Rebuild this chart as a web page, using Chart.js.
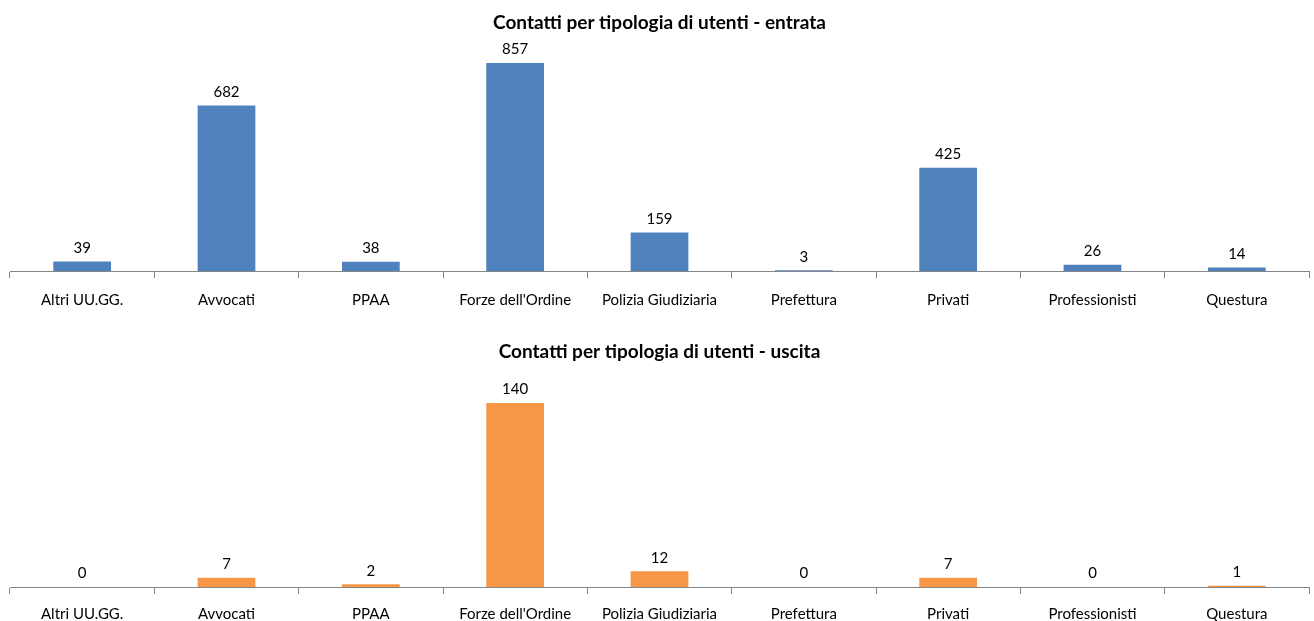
<!DOCTYPE html>
<html>
<head>
<meta charset="utf-8">
<script src="https://cdn.jsdelivr.net/npm/chart.js@4"></script>
<style>
  html, body { margin: 0; padding: 0; background: #fff; overflow: hidden; }
  .box { position: absolute; left: 0; width: 1314px; }
  #top { top: 0; height: 330px; }
  #bottom { top: 329px; height: 305px; }
</style>
</head>
<body>
<div class="box" id="top"><canvas id="chartIn"></canvas></div>
<div class="box" id="bottom"><canvas id="chartOut"></canvas></div>
<script>
// dati
const categories = ['Altri UU.GG.', 'Avvocati', 'PPAA', "Forze dell'Ordine", 'Polizia Giudiziaria', 'Prefettura', 'Privati', 'Professionisti', 'Questura'];
const entrata = [39, 682, 38, 857, 159, 3, 425, 26, 14];
const uscita = [0, 7, 2, 140, 12, 0, 7, 0, 1];

const FONT = 'Lato, "Open Sans", sans-serif';

// etichette sopra le barre (al posto di chartjs-plugin-datalabels)
const valueLabels = {
    id: 'valueLabels',
    afterDatasetsDraw(chart) {
        const ctx = chart.ctx;
        const meta = chart.getDatasetMeta(0);
        ctx.save();
        ctx.font = '15px ' + FONT;
        ctx.fillStyle = '#000';
        ctx.textAlign = 'center';
        ctx.textBaseline = 'bottom';
        meta.data.forEach((bar, i) => {
            ctx.fillText(chart.data.datasets[0].data[i], bar.x, bar.y - 6);
        });
        ctx.restore();
    }
};

function makeChart(id, title, values, color, yMax, padBottom, tickPad) {
    return new Chart(document.getElementById(id), {
        type: 'bar',
        data: {
            labels: categories,
            datasets: [{
                data: values,
                backgroundColor: color,
                borderWidth: 0,
                categoryPercentage: 1,
                barPercentage: 0.4
            }]
        },
        options: {
            responsive: true,
            maintainAspectRatio: false,
            animation: false,
            layout: { padding: { left: 10, right: 5, top: 0, bottom: padBottom } },
            plugins: {
                legend: { display: false },
                tooltip: { enabled: false },
                title: {
                    display: true,
                    text: title,
                    color: '#000',
                    font: { family: FONT, size: 19, weight: 'bold' },
                    padding: { top: 11, bottom: 8 }
                }
            },
            scales: {
                y: { display: false, min: 0, max: yMax },
                x: {
                    border: { color: '#868686', width: 1 },
                    grid: { drawOnChartArea: false, color: '#868686', tickLength: 7 },
                    ticks: { color: '#000', padding: tickPad, font: { family: FONT, size: 15 }, maxRotation: 0, autoSkip: false }
                }
            }
        },
        plugins: [valueLabels]
    });
}

makeChart('chartIn', 'Contatti per tipologia di utenti - entrata', entrata, '#4F81BD', 944, 8, 13);
makeChart('chartOut', 'Contatti per tipologia di utenti - uscita', uscita, '#F79646', 164.5, 0, 11);
</script>
</body>
</html>
